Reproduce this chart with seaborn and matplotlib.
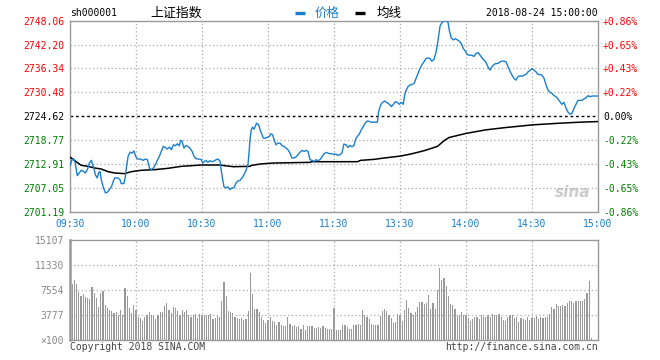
import matplotlib
matplotlib.use("Agg")
import matplotlib.pyplot as plt
from matplotlib.lines import Line2D
import seaborn as sns
import pandas as pd

# ---------------- data ----------------
price_min = [0, 0.9, 1.8, 2.4, 3.3, 4.2, 5.1, 6.1, 7.0, 7.9, 8.8, 9.7, 10.3, 10.9, 11.5, 12.4, 13.0, 13.6,
             14.2, 15.2, 16.1, 17.0, 17.9, 18.8, 19.7, 20.3, 21.8, 22.7, 23.3, 24.5, 25.2, 25.8, 26.4, 27.3,
             28.2, 29.1, 30.0, 30.9, 32.1, 33.3, 34.2, 35.2, 36.1, 37.0, 37.9, 38.8, 39.7, 40.6, 41.5, 42.4,
             43.3, 44.2, 45.2, 46.1, 47.0, 47.9, 48.8, 49.7, 50.3, 50.9, 51.8, 52.7, 53.6, 54.5, 55.5, 56.4,
             57.3, 58.5, 59.7, 60.3, 61.8, 62.7, 63.6, 64.5, 65.5, 66.4, 67.3, 68.2, 68.5, 68.8, 69.4, 70.0,
             70.9, 71.8, 72.7, 73.6, 74.5, 75.5, 76.4, 77.3, 78.2, 79.1, 80.0, 80.9, 81.5, 81.8, 82.4, 83.0,
             83.6, 84.2, 84.8, 85.8, 86.4, 87.3, 87.9, 88.8, 89.7, 90.6, 91.2, 92.1, 92.7, 93.6, 94.5, 95.5,
             96.4, 97.3, 98.2, 99.1, 100.0, 100.9, 101.8, 102.7, 103.6, 104.5, 105.5, 106.4, 107.3, 108.2,
             109.1, 110.0, 110.9, 111.8, 112.7, 113.6, 114.5, 115.5, 116.4, 117.3, 118.2, 119.1, 120.0,
             120.9, 121.8, 122.7, 123.6, 124.5, 125.5, 126.4, 127.3, 128.2, 129.1, 129.7, 130.6, 131.5,
             132.4, 133.3, 134.2, 135.2, 136.1, 137.0, 137.9, 138.8, 139.7, 140.3, 141.2, 142.1, 143.0,
             143.9, 145.2, 146.1, 147.0, 147.9, 148.8, 149.7, 150.6, 151.5, 152.1, 152.7, 153.6, 154.5,
             155.5, 156.4, 157.3, 158.2, 159.1, 160.0, 160.9, 161.8, 162.7, 163.6, 164.5, 165.5, 166.4,
             167.3, 168.2, 169.1, 170.0, 170.9, 171.8, 172.4, 173.3, 174.2, 175.2, 176.1, 177.0, 177.9,
             178.8, 179.7, 180.6, 181.5, 182.7, 183.6, 184.5, 185.5, 186.4, 187.3, 188.2, 189.1, 190.0,
             190.9, 191.8, 192.7, 193.6, 194.5, 195.5, 196.4, 197.3, 198.2, 199.1, 200.0, 200.9, 201.8,
             202.7, 203.6, 204.5, 205.5, 206.4, 207.3, 208.2, 209.1, 210.0, 210.9, 211.8, 212.7, 213.6,
             214.5, 215.5, 216.4, 217.3, 218.2, 219.1, 220.0, 220.9, 221.8, 222.7, 223.6, 224.5, 225.5,
             226.4, 227.3, 228.2, 229.1, 230.0, 230.9, 231.8, 232.7, 233.6, 234.5, 235.5, 236.4, 237.3,
             238.2, 239.1, 240.0]
price_val = [2712.49, 2713.95, 2714.11, 2713.14, 2710.04, 2710.69, 2711.35, 2711.10, 2710.69, 2711.51,
             2713.14, 2713.79, 2712.73, 2711.91, 2710.29, 2709.47, 2710.69, 2711.10, 2709.07, 2707.03,
             2705.81, 2705.97, 2706.62, 2707.28, 2708.66, 2709.47, 2709.47, 2709.07, 2708.09, 2708.09,
             2709.88, 2712.73, 2714.76, 2715.82, 2715.58, 2716.07, 2714.60, 2714.11, 2714.11, 2713.79,
             2714.11, 2713.95, 2711.91, 2711.51, 2711.91, 2712.73, 2713.79, 2714.76, 2715.99, 2717.21,
             2716.96, 2716.55, 2717.04, 2716.39, 2717.61, 2717.37, 2717.86, 2717.37, 2718.67, 2718.51,
             2716.80, 2717.45, 2717.21, 2716.80, 2715.99, 2714.76, 2714.19, 2714.11, 2713.95, 2713.14,
             2713.79, 2713.30, 2713.70, 2713.46, 2713.62, 2713.95, 2714.11, 2713.54, 2712.32, 2711.10,
             2709.06, 2707.27, 2707.03, 2707.27, 2706.62, 2707.03, 2707.03, 2708.25, 2708.74, 2708.90,
             2709.47, 2710.29, 2711.34, 2712.73, 2716.39, 2718.83, 2721.27, 2721.93, 2721.44, 2722.09,
             2722.90, 2722.50, 2721.27, 2720.05, 2719.24, 2719.24, 2719.48, 2719.65, 2720.30, 2720.05,
             2718.99, 2717.61, 2718.02, 2718.02, 2717.37, 2717.20, 2716.80, 2716.39, 2715.58, 2714.36,
             2714.36, 2714.60, 2715.17, 2715.74, 2716.23, 2715.98, 2716.23, 2715.98, 2713.95, 2713.79,
             2713.54, 2713.95, 2713.70, 2713.95, 2714.60, 2715.41, 2715.74, 2715.58, 2715.41, 2715.41,
             2715.25, 2715.33, 2715.01, 2715.17, 2715.58, 2717.78, 2717.61, 2716.96, 2717.45, 2717.13,
             2717.45, 2718.83, 2719.65, 2720.22, 2721.28, 2722.09, 2722.90, 2723.47, 2723.31, 2723.15,
             2723.15, 2723.15, 2723.15, 2725.75, 2727.38, 2728.03, 2728.36, 2728.03, 2727.54, 2726.98,
             2727.54, 2728.20, 2728.03, 2727.54, 2728.03, 2727.54, 2729.82, 2730.80, 2731.86, 2732.27,
             2732.43, 2732.67, 2733.89, 2735.12, 2736.34, 2737.31, 2737.96, 2738.78, 2738.94, 2738.78,
             2738.13, 2738.61, 2740.41, 2743.26, 2746.76, 2747.57, 2748.06, 2748.06, 2747.73, 2745.70,
             2743.83, 2743.34, 2743.66, 2743.34, 2743.01, 2742.44, 2741.22, 2740.57, 2739.75, 2739.59,
             2739.59, 2739.27, 2740.00, 2740.24, 2739.59, 2738.94, 2738.37, 2737.80, 2736.74, 2735.93,
             2736.74, 2737.31, 2737.56, 2737.56, 2737.96, 2738.13, 2738.13, 2737.96, 2736.74, 2735.68,
             2734.71, 2733.89, 2733.49, 2734.30, 2734.55, 2734.38, 2734.71, 2734.87, 2735.52, 2735.85,
             2736.34, 2735.93, 2735.52, 2734.87, 2734.87, 2734.71, 2733.89, 2732.27, 2731.04, 2730.48,
             2730.23, 2729.66, 2729.42, 2728.85, 2728.20, 2727.54, 2728.03, 2726.57, 2725.59, 2725.10,
             2725.35, 2726.57, 2727.54, 2728.52, 2728.52, 2728.52, 2728.85, 2729.17, 2729.66, 2729.42,
             2729.58, 2729.58, 2729.58, 2729.58]

avg_min = [0, 2, 3.6, 5.1, 8.2, 11.2, 14.2, 17.3, 20.3, 24.8, 27.9, 32.4, 38.5, 44.5, 50.6, 59.7, 68.2,
           70.5, 74.2, 81.8, 82.6, 86.4, 92.4, 109.1, 109.8, 120, 130.6, 132.1, 138.2, 142.7, 150.3,
           154.8, 160.9, 167.0, 170.0, 172.3, 176.1, 180.0, 189.1, 198.2, 210.3, 222.4, 231.5, 240]
avg_val = [2714.60, 2713.79, 2713.14, 2712.57, 2712.32, 2711.91, 2711.67, 2711.02, 2710.69, 2710.53,
           2711.02, 2711.35, 2711.51, 2711.83, 2712.32, 2712.65, 2712.65, 2712.48, 2712.24, 2712.32,
           2712.56, 2712.89, 2713.13, 2713.30, 2713.46, 2713.46, 2713.46, 2713.79, 2714.03, 2714.36,
           2714.85, 2715.33, 2716.15, 2717.21, 2718.59, 2719.40, 2719.89, 2720.40, 2721.28, 2721.85,
           2722.50, 2722.90, 2723.15, 2723.31]

volume = [15107,
          8460, 9065, 8460, 7252, 6648, 6950, 6446, 6345, 6144, 7957, 7101, 6345, 4986, 7101, 7453,
          5288, 4835, 4583, 4432, 4079, 4230, 3727, 4532, 3727, 7856, 6648, 4835, 4079, 5338,
          4532,
          3475, 3324, 2921, 3525, 3727, 4230, 3727, 3727, 3173, 3727, 4230, 4230, 5187, 5590, 4532,
          4079, 4986, 4835, 4331, 3727, 4532, 4230, 4532, 3727, 3525, 3827, 3928, 3324, 3928, 3727,
          3827, 3727, 3827, 3928, 3173, 3324, 3727,
          3525, 5942, 8763, 6648, 4432, 4230, 4079, 3475, 3324, 3223, 3324, 3072, 3173, 4432, 10122,
          6950, 4734, 4734, 4230, 3475, 3022, 2569, 3022,
          3475, 2820, 2719, 2216, 2719, 2216, 2115, 2115, 3475, 2417, 2115, 2317, 2014, 2115, 1712,
          2216, 1511, 2115, 2115, 2115, 1813, 1813, 2014, 1813, 2115, 1813, 1712, 1712, 1712, 4835,
          1511, 1511, 1511, 2216, 2216, 2014, 1712, 1712, 2216, 2216, 2417, 2216, 4532, 3727, 3525,
          3122, 2417, 2317, 2216, 2216, 3626, 4432, 4734, 4432, 3727, 3324, 2568, 2719, 3928, 3727,
          2820, 4532, 6044, 4835, 4029, 3727, 4230, 4986, 5741, 5741, 5439, 5590, 6748, 4734, 5590,
          4734, 7554, 10878, 9065, 9367, 8158, 6648, 5439, 5237, 4734, 3727, 3727, 4230, 3727, 3727,
          3324, 2820, 3223, 3525, 3525, 3223, 3727, 3525, 3525, 3727, 3525, 3928, 3727, 3827, 3928,
          3525, 3022, 2820, 3525, 3727, 3727, 3324, 3424, 2719, 3324, 3122, 3022, 3525, 3022, 3324,
          3324, 3626, 3223, 3424, 3324, 3525, 3525, 3928, 4935, 4734, 5439, 5137, 5137, 5338, 5137,
          5640, 5842, 5842, 5640, 5842, 5842, 5942, 5842, 6148, 7055, 8959, 300, 0, 0, 0]
vol_minute = list(range(len(volume)))

time_ticks = [0, 30, 60, 90, 120, 150, 180, 210, 240]
time_labels = ["09:30", "10:00", "10:30", "11:00", "11:30", "13:30", "14:00", "14:30", "15:00"]
price_ticks = [2748.06, 2742.20, 2736.34, 2730.48, 2724.62, 2718.77, 2712.91, 2707.05, 2701.19]
pct_labels = ["+0.86%", "+0.65%", "+0.43%", "+0.22%", "0.00%", "-0.22%", "-0.43%", "-0.65%", "-0.86%"]
vol_ticks = [0, 3777, 7554, 11330, 15107]
vol_labels = ["×100", "3777", "7554", "11330", "15107"]
prev_close = 2724.62

# ---------------- style ----------------
sns.set_style("white")
plt.rcParams["font.family"] = ["DejaVu Sans Mono", "Noto Sans CJK SC"]
MONO = ["DejaVu Sans Mono"]
CJK = ["Noto Sans CJK SC", "DejaVu Sans"]
BLUE = "#1a7fcf"
GRID = "#aaaaaa"
SPINE = "#999999"
RED = "#ff0000"
GREEN = "#008000"

W, H = 660, 360
fig = plt.figure(figsize=(6.6, 3.6), dpi=100)
fig.patch.set_facecolor("white")

def fx(px):
    return px / W

def fy(py):
    return 1 - py / H

ax = fig.add_axes([fx(70), fy(211.7), fx(528), 191 / H])
axv = fig.add_axes([fx(70), fy(340), fx(528), 100 / H])

# ---------------- price panel ----------------
pdf = pd.DataFrame({"m": price_min, "p": price_val})
adf = pd.DataFrame({"m": avg_min, "p": avg_val})
sns.lineplot(data=adf, x="m", y="p", ax=ax, color="black", lw=1.1, zorder=3)
sns.lineplot(data=pdf, x="m", y="p", ax=ax, color=BLUE, lw=1.0, zorder=4)
ax.axhline(prev_close, color="black", lw=1.0, ls=(0, (2, 2)), zorder=2)

ax.set_xlim(0, 240)
ax.set_ylim(min(price_ticks), max(price_ticks))
ax.set_xlabel("")
ax.set_ylabel("")
ax.set_yticks(price_ticks)
ax.set_yticklabels([f"{v:.2f}" for v in price_ticks], family=MONO, fontsize=7)
for lab, v in zip(ax.get_yticklabels(), price_ticks):
    lab.set_color(RED if v > prev_close + 0.01 else (GREEN if v < prev_close - 0.01 else "black"))
ax.set_xticks(time_ticks)
ax.set_xticklabels(time_labels, family=MONO, fontsize=7, color=BLUE)
ax.tick_params(axis="both", length=0)
ax.tick_params(axis="y", pad=4.3)
ax.tick_params(axis="x", pad=5)
for v in price_ticks[1:-1]:
    if abs(v - prev_close) > 0.01:
        ax.axhline(v, color=GRID, lw=0.9, ls=(0, (1, 2)), zorder=1)
for t in time_ticks[1:-1]:
    ax.axvline(t, color=GRID, lw=0.9, ls=(0, (1, 2)), zorder=1)
for s in ax.spines.values():
    s.set_color(SPINE)
    s.set_linewidth(1.0)

ax2 = ax.twinx()
ax2.set_ylim(ax.get_ylim())
ax2.set_yticks(price_ticks)
ax2.set_yticklabels(pct_labels, family=MONO, fontsize=7)
for lab, v in zip(ax2.get_yticklabels(), price_ticks):
    lab.set_color(RED if v > prev_close + 0.01 else (GREEN if v < prev_close - 0.01 else "black"))
ax2.tick_params(axis="y", length=0, pad=3.6)
for s in ax2.spines.values():
    s.set_visible(False)

# sina watermark
ax.text(0.985, 0.06, "sina", transform=ax.transAxes, ha="right", va="bottom", fontsize=11,
        fontweight="bold", fontstyle="italic", color="#cccccc", family=["DejaVu Sans"], zorder=0)

# ---------------- volume panel ----------------
vdf = pd.DataFrame({"m": vol_minute, "v": volume})
sns.barplot(data=vdf, x="m", y="v", ax=axv, native_scale=True, color="#999999", saturation=1,
            width=0.5, errorbar=None, linewidth=0, zorder=2)
for p in axv.patches:
    p.set_antialiased(False)
axv.set_xlim(0, 240)
axv.set_ylim(0, max(vol_ticks))
axv.set_xlabel("")
axv.set_ylabel("")
axv.set_xticks([])
axv.set_yticks(vol_ticks)
axv.set_yticklabels(vol_labels, family=MONO, fontsize=7, color="#888888")
axv.tick_params(axis="y", length=0, pad=4.3)
for v in vol_ticks[1:-1]:
    axv.axhline(v, color=GRID, lw=0.9, ls=(0, (1, 2)), zorder=3)
for t in time_ticks[1:-1]:
    axv.axvline(t, color=GRID, lw=0.9, ls=(0, (1, 2)), zorder=3)
for s in axv.spines.values():
    s.set_color(SPINE)
    s.set_linewidth(1.0)
axv.spines["left"].set_linewidth(1.8)

# ---------------- header / footer texts ----------------
fig.text(fx(70), fy(13.5), "sh000001", ha="left", va="center", fontsize=7, family=MONO, color="black")
fig.text(fx(150), fy(13.5), "上证指数", ha="left", va="center", fontsize=9.3, family=CJK, color="black")
fig.add_artist(Line2D([fx(295), fx(305)], [fy(12.5), fy(12.5)], transform=fig.transFigure,
                      color=BLUE, lw=2.4, solid_capstyle="butt"))
fig.text(fx(315), fy(13.5), "价格", ha="left", va="center", fontsize=9, family=CJK, color=BLUE)
fig.add_artist(Line2D([fx(355), fx(365)], [fy(12.5), fy(12.5)], transform=fig.transFigure,
                      color="black", lw=2.4, solid_capstyle="butt"))
fig.text(fx(377), fy(13.5), "均线", ha="left", va="center", fontsize=9, family=CJK, color="black")
fig.text(fx(598), fy(13.5), "2018-08-24 15:00:00", ha="right", va="center", fontsize=7, family=MONO,
         color="black")
fig.text(fx(70), fy(347), "Copyright 2018 SINA.COM", ha="left", va="center", fontsize=7, family=MONO,
         color="#444444")
fig.text(fx(598), fy(347), "http://finance.sina.com.cn", ha="right", va="center", fontsize=7, family=MONO,
         color="#444444")

fig.savefig("out.png", dpi=100, facecolor="white")
